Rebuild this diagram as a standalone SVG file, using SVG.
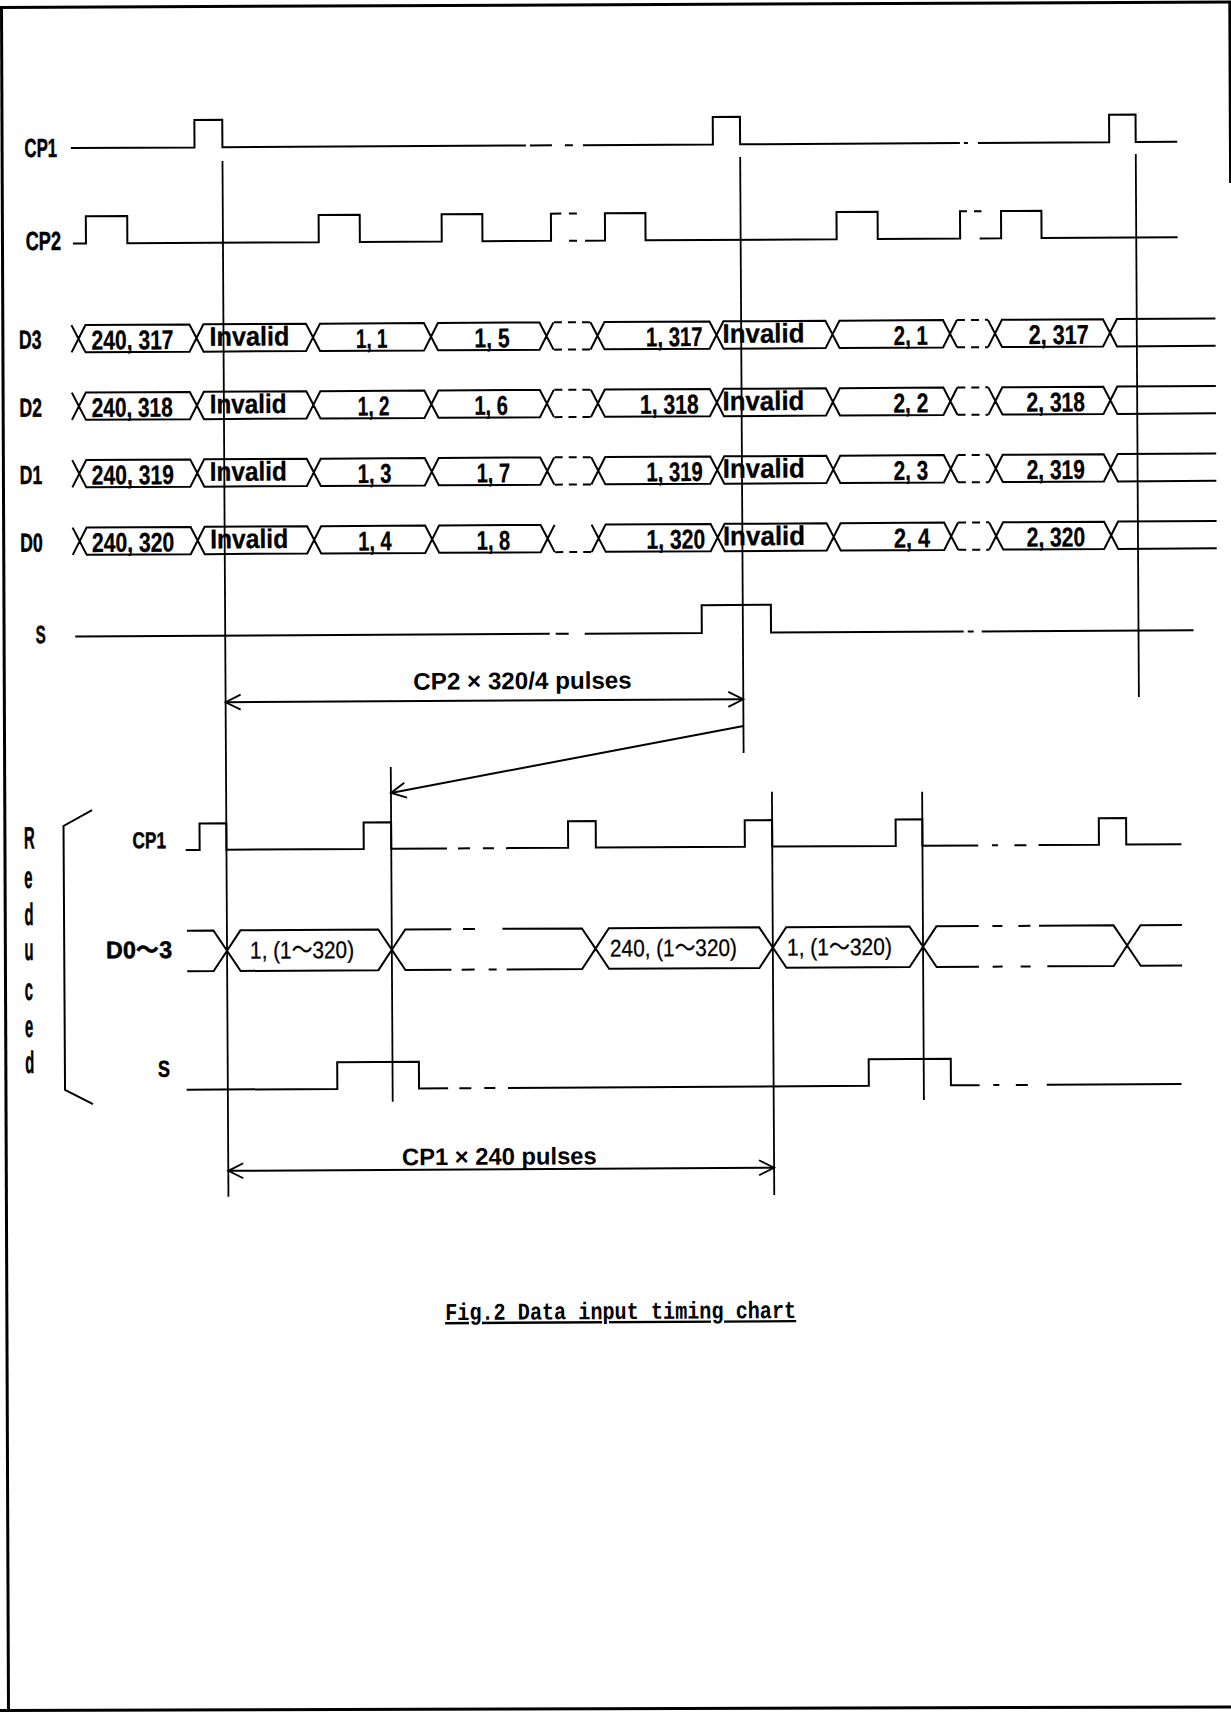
<svg xmlns="http://www.w3.org/2000/svg" width="1231" height="1712" viewBox="0 0 1231 1712">
<defs>
<style>
.w{fill:none;stroke:#000;stroke-width:2;stroke-linejoin:miter}
.v{fill:none;stroke:#000;stroke-width:1.8}
.d{fill:none;stroke:#000;stroke-width:2;stroke-dasharray:8 6}
.b{fill:none;stroke:#000;stroke-width:3}
.lbl{font-family:'Liberation Sans','Noto Sans CJK JP',sans-serif;font-weight:bold;fill:#000;stroke:#000;stroke-width:0.5}
.val{font-family:'Liberation Sans','Noto Sans CJK JP',sans-serif;font-weight:bold;font-size:27px;fill:#000;stroke:#000;stroke-width:0.3}
.red{font-family:'Liberation Sans','Noto Sans CJK JP',sans-serif;font-size:24px;fill:#000;stroke:#000;stroke-width:0.3}
.cap{font-family:'Liberation Sans','Noto Sans CJK JP',sans-serif;font-weight:bold;font-size:24px;fill:#000}
.ttl{font-family:'Liberation Mono',monospace;font-weight:bold;font-size:24px;fill:#000;text-decoration:underline}
</style>
<marker id="ah" viewBox="-2 -2 20 20" refX="15" refY="7.5" markerWidth="20" markerHeight="20" markerUnits="userSpaceOnUse" orient="auto-start-reverse" overflow="visible">
<path d="M0,0 L15,7.5 L0,15" fill="none" stroke="#000" stroke-width="1.8"/>
</marker>
<g id="dataRow">
<path class="w" d="M74.5,0 L81.5,13.65 L74.5,27.3
M81.5,13.65 L88.5,0 H192.5 L199.5,13.65 L192.5,27.3 H88.5 Z
M199.5,13.65 L206.5,0 H309 L316,13.65 L309,27.3 H206.5 Z
M316,13.65 L323,0 H427 L434,13.65 L427,27.3 H323 Z
M434,13.65 L441,0 H542.5 L549.5,13.65 L542.5,27.3 H441 Z
M556.5,0 L549.5,13.65 L556.5,27.3 M593.5,0 L600.5,13.65 L593.5,27.3
M600.5,13.65 L607.5,0 H712.5 L719.5,13.65 L712.5,27.3 H607.5 Z
M719.5,13.65 L726.5,0 H828.5 L835.5,13.65 L828.5,27.3 H726.5 Z
M835.5,13.65 L842.5,0 H946 L953,13.65 L946,27.3 H842.5 Z
M960,0 L953,13.65 L960,27.3 M991,0 L998,13.65 L991,27.3
M998,13.65 L1005,0 H1106 L1113,13.65 L1106,27.3 H1005 Z
M1218.5,0 H1120 L1113,13.65 L1120,27.3 H1218.5"/>
<path class="d" d="M557,27.3 H593 M960,0 H991 M960,27.3 H991"/>
</g>
<path id="dashTopL" class="d" d="M557,0 H593"/>
</defs>

<rect x="0" y="0" width="1231" height="1712" fill="#fff"/>

<g id="border">
<path class="b" d="M0,7.5 L1231,2"/>
<path class="b" d="M1.5,6 L8.5,1712"/>
<path class="b" d="M0,1710.5 L1231,1707"/>
<path class="b" d="M1229.8,1 L1230.6,183"/>
</g>

<g transform="rotate(-0.33 615 856)">

<g id="cp1-top">
<text class="lbl" x="28.6" y="153.7" font-size="26" textLength="32.5" lengthAdjust="spacingAndGlyphs">CP1</text>
<path class="w" d="M75,145 H198.6 V117.5 H226.5 V145 H530 M534,145 H556 M569,145 H577 M587,145 H717 V117.5 H744.2 V145 H964 M968,145 H972 M982,145 H1113.3 V117.5 H1139.8 V145 H1181.3"/>
</g>

<g id="cp2-top">
<text class="lbl" x="29.2" y="246.7" font-size="26" textLength="35.3" lengthAdjust="spacingAndGlyphs">CP2</text>
<path class="w" d="M76.5,240.5 H89.5 V213.3 H130.9 V240.5 H322.3 V213.3 H363.4 V240.5 H445.3 V213.3 H486 V240.5 H554.6 V213.3 H565 M572.6,213.3 H580.6 M572.6,240.5 H580.6 M588.6,240.5 H608.6 V213.3 H649.1 V240.5 H840.2 V213.3 H881.3 V240.5 H963.7 V213.3 H970.7 M977.7,213.3 H985.2 M983.2,240.5 H1004.7 V213.3 H1045.1 V240.5 H1181.2"/>
</g>

<g id="row-D3">
<text class="lbl" x="22" y="345.3" font-size="26" textLength="22.5" lengthAdjust="spacingAndGlyphs">D3</text>
<use href="#dataRow" y="322"/>
<use href="#dashTopL" y="322"/>
<text class="val" x="94.5" y="346.5" textLength="82" lengthAdjust="spacingAndGlyphs">240, 317</text>
<text class="val" x="212.5" y="343.5" textLength="80" lengthAdjust="spacingAndGlyphs">Invalid</text>
<text class="val" x="359" y="346.5" textLength="31.5" lengthAdjust="spacingAndGlyphs">1, 1</text>
<text class="val" x="477.5" y="346.5" textLength="35" lengthAdjust="spacingAndGlyphs">1, 5</text>
<text class="val" x="649" y="346.5" textLength="56.6" lengthAdjust="spacingAndGlyphs">1, 317</text>
<text class="val" x="725.5" y="343.5" textLength="82" lengthAdjust="spacingAndGlyphs">Invalid</text>
<text class="val" x="896.8" y="346.5" textLength="34" lengthAdjust="spacingAndGlyphs">2, 1</text>
<text class="val" x="1031.6" y="346.5" textLength="60" lengthAdjust="spacingAndGlyphs">2, 317</text>
</g>

<g id="row-D2">
<text class="lbl" x="22" y="413.3" font-size="26" textLength="22.5" lengthAdjust="spacingAndGlyphs">D2</text>
<use href="#dataRow" y="389.5"/>
<use href="#dashTopL" y="389.5"/>
<text class="val" x="94.3" y="414" textLength="81" lengthAdjust="spacingAndGlyphs">240, 318</text>
<text class="val" x="212.2" y="411" textLength="77" lengthAdjust="spacingAndGlyphs">Invalid</text>
<text class="val" x="360.4" y="414" textLength="31.6" lengthAdjust="spacingAndGlyphs">1, 2</text>
<text class="val" x="477" y="414" textLength="33.5" lengthAdjust="spacingAndGlyphs">1, 6</text>
<text class="val" x="642.6" y="414" textLength="58.6" lengthAdjust="spacingAndGlyphs">1, 318</text>
<text class="val" x="725" y="411" textLength="82" lengthAdjust="spacingAndGlyphs">Invalid</text>
<text class="val" x="896" y="414" textLength="35" lengthAdjust="spacingAndGlyphs">2, 2</text>
<text class="val" x="1029" y="414" textLength="58.6" lengthAdjust="spacingAndGlyphs">2, 318</text>
</g>

<g id="row-D1">
<text class="lbl" x="22" y="480.6" font-size="26" textLength="22.5" lengthAdjust="spacingAndGlyphs">D1</text>
<use href="#dataRow" y="457"/>
<use href="#dashTopL" y="457"/>
<text class="val" x="94" y="481.5" textLength="82" lengthAdjust="spacingAndGlyphs">240, 319</text>
<text class="val" x="212" y="478.5" textLength="77" lengthAdjust="spacingAndGlyphs">Invalid</text>
<text class="val" x="360" y="481.5" textLength="33.7" lengthAdjust="spacingAndGlyphs">1, 3</text>
<text class="val" x="478.8" y="481.5" textLength="33.5" lengthAdjust="spacingAndGlyphs">1, 7</text>
<text class="val" x="648.6" y="481.5" textLength="56.4" lengthAdjust="spacingAndGlyphs">1, 319</text>
<text class="val" x="725" y="478.5" textLength="82" lengthAdjust="spacingAndGlyphs">Invalid</text>
<text class="val" x="896" y="481.5" textLength="34.3" lengthAdjust="spacingAndGlyphs">2, 3</text>
<text class="val" x="1028.8" y="481.5" textLength="58.2" lengthAdjust="spacingAndGlyphs">2, 319</text>
</g>

<g id="row-D0">
<text class="lbl" x="22" y="548.3" font-size="26" textLength="22.5" lengthAdjust="spacingAndGlyphs">D0</text>
<use href="#dataRow" y="524.5"/>
<text class="val" x="93.7" y="549" textLength="82.3" lengthAdjust="spacingAndGlyphs">240, 320</text>
<text class="val" x="212" y="546" textLength="78" lengthAdjust="spacingAndGlyphs">Invalid</text>
<text class="val" x="360" y="549" textLength="33.5" lengthAdjust="spacingAndGlyphs">1, 4</text>
<text class="val" x="478.5" y="549" textLength="33.5" lengthAdjust="spacingAndGlyphs">1, 8</text>
<text class="val" x="648.3" y="549" textLength="58.7" lengthAdjust="spacingAndGlyphs">1, 320</text>
<text class="val" x="724.7" y="546" textLength="82.3" lengthAdjust="spacingAndGlyphs">Invalid</text>
<text class="val" x="895.7" y="549" textLength="36.3" lengthAdjust="spacingAndGlyphs">2, 4</text>
<text class="val" x="1028.5" y="549" textLength="58.5" lengthAdjust="spacingAndGlyphs">2, 320</text>
</g>

<g id="s-top">
<text class="lbl" x="36.9" y="640" font-size="25" textLength="10" lengthAdjust="spacingAndGlyphs">S</text>
<path class="w" d="M76.5,633.5 H551 M557,633.5 H570 M586,633.5 H703.1 V605.7 H772.3 V633.5 H965 M969,633.5 H975 M983,633.5 H1194.8"/>
</g>

<g id="reduced-label">
<path class="w" d="M92.3,807 L63.7,822.8 V1086.8 L91.6,1101.2"/>
<text class="lbl" font-size="31" transform="translate(24,0) scale(0.48,1)"><tspan x="0" y="845">R</tspan><tspan x="0" y="884.6">e</tspan><tspan x="0" y="921.6">d</tspan><tspan x="0" y="956.6">u</tspan><tspan x="0" y="996.6">c</tspan><tspan x="0" y="1033.6">e</tspan><tspan x="0" y="1069.6">d</tspan></text>
</g>

<g id="cp1-reduced">
<text class="lbl" x="132.6" y="845.5" font-size="23" textLength="33.4" lengthAdjust="spacingAndGlyphs">CP1</text>
<path class="w" d="M185.8,847.5 H199.7 V821 H226.5 V847.5 H363.8 V821 H391.3 V847.5 H447 M458,847.5 H470 M483,847.5 H494 M506,847.5 H568.2 V821 H595.9 V847.5 H744.9 V821 H772.3 V847.5 H895.8 V821 H922.5 V847.5 H978.3 M992,847.5 H998 M1014.5,847.5 H1026.5 M1038.6,847.5 H1099 V821 H1126.3 V847.5 H1181.5"/>
</g>

<g id="d03-reduced">
<text class="lbl" x="105.5" y="955.4" font-size="24" textLength="66" lengthAdjust="spacingAndGlyphs">D0～3</text>
<path class="w" d="M186.6,928.2 H213 L226.5,948.5 L213,968.8 H186.6
M226.5,948.5 L240,928.2 H377.8 L391.3,948.5 L377.8,968.8 H240 Z
M391.3,948.5 L404.8,928.2 H450.8 M462.6,928.2 H474.5 M502,928.2 H581.5 L595,948.5
M391.3,948.5 L404.8,968.8 H450.8 M461,968.8 H474 M488,968.8 H496 M506,968.8 H581.5 L595,948.5
M595,948.5 L608.5,928.2 H758.8 L772.3,948.5 L758.8,968.8 H608.5 Z
M772.3,948.5 L785.8,928.2 H909 L922.5,948.5 L909,968.8 H785.8 Z
M922.5,948.5 L936,928.2 H978.3 M992,928.2 H1002 M1018,928.2 H1030 M1038.6,928.2 H1113.1 L1126.6,948.5
M922.5,948.5 L936,968.8 H978.3 M992,968.8 H1002 M1020,968.8 H1030 M1046.7,968.8 H1113.1 L1126.6,948.5
M1181.5,928.2 H1140.1 L1126.6,948.5 L1140.1,968.8 H1181.5"/>
<text class="red" x="249.5" y="956.5" textLength="104" lengthAdjust="spacingAndGlyphs">1, (1～320)</text>
<text class="red" x="609.5" y="956.5" textLength="126.8" lengthAdjust="spacingAndGlyphs">240, (1～320)</text>
<text class="red" x="786.5" y="956.5" textLength="104.8" lengthAdjust="spacingAndGlyphs">1, (1～320)</text>
</g>

<g id="s-reduced">
<text class="lbl" x="156.8" y="1074" font-size="23" textLength="12" lengthAdjust="spacingAndGlyphs">S</text>
<path class="w" d="M185.3,1087.3 H336 V1060.6 H417.7 V1087.3 H446.8 M458,1087.3 H470 M483,1087.3 H494 M506.7,1087.3 H867.5 V1060.6 H949.6 V1087.3 H978.3 M992,1087.3 H998 M1014.5,1087.3 H1026.5 M1045.4,1087.3 H1180.2"/>
</g>

<g id="connectors">
<path class="v" d="M226.5,158.8 V1194.5"/>
<path class="v" d="M744.2,157.7 V753.7"/>
<path class="v" d="M1139.8,157 V700"/>
<path class="v" d="M391.3,765.7 V1100.4"/>
<path class="v" d="M772.3,792.6 V1195.9"/>
<path class="v" d="M922.5,793.5 V1101.8"/>
<path class="w" d="M226.5,700 H744.2" marker-start="url(#ah)" marker-end="url(#ah)"/>
<path class="w" d="M744.2,726.7 L391.3,791.7" marker-end="url(#ah)"/>
<path class="w" d="M226.5,1168.6 H772.3" marker-start="url(#ah)" marker-end="url(#ah)"/>
<text class="cap" x="414.3" y="688.5" textLength="218.4" lengthAdjust="spacingAndGlyphs">CP2 × 320/4 pulses</text>
<text class="cap" x="400.3" y="1164" font-size="22" textLength="194.7" lengthAdjust="spacingAndGlyphs">CP1 × 240 pulses</text>
</g>

<g id="title">
<text class="ttl" x="442.5" y="1319" textLength="351" lengthAdjust="spacingAndGlyphs">Fig.2 Data input timing chart</text>
</g>

</g>
</svg>
